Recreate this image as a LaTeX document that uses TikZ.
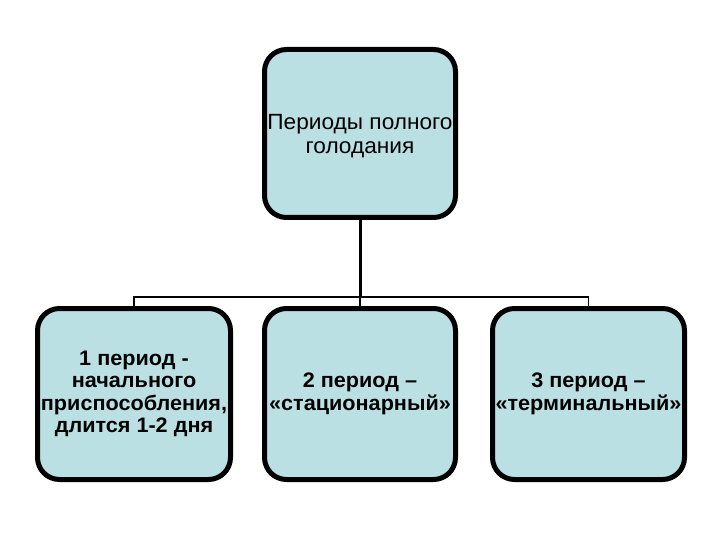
\documentclass[tikz,border=0pt]{standalone}
\usepackage{fontspec}
\setmainfont{Liberation Sans}[FakeStretch=1.03]
\definecolor{boxfill}{RGB}{187,224,228}
\begin{document}
\begin{tikzpicture}[x=1pt,y=-1pt,
  pbox/.style={draw=black, line width=5pt, fill=boxfill, rounded corners=22pt,
    align=center, inner sep=0pt},
  bbox/.style={pbox, minimum width=193pt, minimum height=171pt, font=\fontsize{21}{22.5}\selectfont\bfseries},
  txt/.style={align=center, inner sep=0pt, font=\fontsize{22}{24}\selectfont},
  link/.style={draw=black, line width=1.5pt}]
\useasboundingbox (0,0) rectangle (720,540);
\fill[white] (0,0) rectangle (720,540);
\node[pbox, minimum width=191pt, minimum height=168pt] (top) at (360,133.5) {};
\node[txt] (toptext) at (360,136) {Периоды полного\\голодания};
\node[bbox] (b1) at (134,394) {1 период -\\начального\\приспособления,\\длится 1-2 дня};
\node[bbox, minimum width=191pt] (b2) at (360,394) {2 период –\\«стационарный»};
\node[bbox, minimum width=192pt] (b3) at (588.5,394) {3 период –\\«терминальный»};
\coordinate (j) at (360,297);
\draw[line width=3pt] (top.south) -- (j);
\draw[link] (b1.north) |- (j) -| (b3.north);
\draw[link] (j) -- (b2.north);
\end{tikzpicture}
\end{document}
